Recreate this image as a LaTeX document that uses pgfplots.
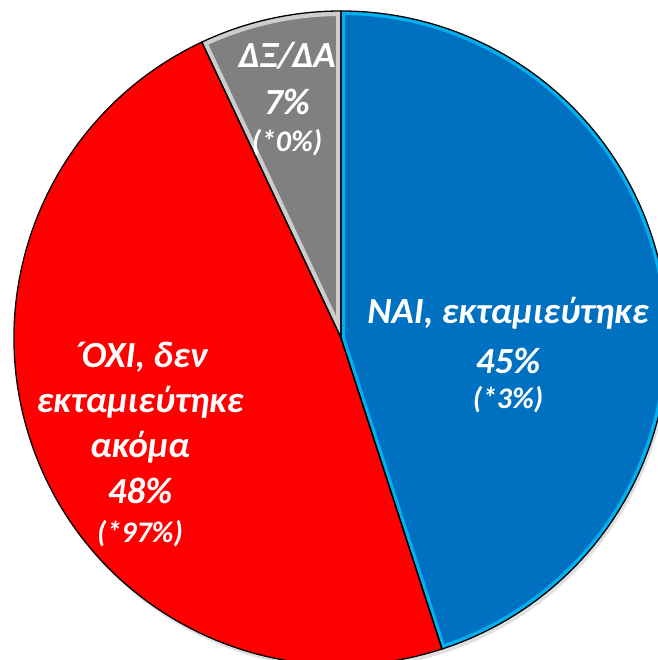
\documentclass[border=0pt]{standalone}
\usepackage{fontspec}
\setmainfont{Carlito}
\usepackage{pgfplots}
\pgfplotsset{compat=1.18}
\usepackage{pgfplotstable}
\definecolor{naiblue}{HTML}{0070C0}
\definecolor{naiedge}{HTML}{00B0F0}
\definecolor{oxired}{HTML}{FF0000}
\definecolor{dkgray}{HTML}{808080}
\definecolor{dkedge}{HTML}{CDCDCD}

\pgfplotstableread{
label value
NAI 45
OXI 48
DKDA 7
}\piedata

\begin{document}
\begin{tikzpicture}
\useasboundingbox (0,0) rectangle (658bp,660bp);
\clip (0,0) rectangle (658bp,660bp);
\pgfplotstablegetelem{0}{value}\of\piedata \pgfmathsetmacro{\vA}{\pgfplotsretval}
\pgfplotstablegetelem{1}{value}\of\piedata \pgfmathsetmacro{\vB}{\pgfplotsretval}
\pgfplotstablegetelem{2}{value}\of\piedata \pgfmathsetmacro{\vC}{\pgfplotsretval}
\pgfmathsetmacro{\aA}{90}
\pgfmathsetmacro{\aB}{\aA-3.6*\vA}
\pgfmathsetmacro{\aC}{\aB-3.6*\vB}
\pgfmathsetmacro{\aD}{\aC-3.6*\vC}
\def\wedge#1#2{(axis cs:341,322) -- ++(#1:327bp) arc[start angle=#1, end angle=#2, radius=327bp] -- cycle}
\begin{axis}[at={(0,0)}, anchor=south west, x=1bp, y=1bp, xmin=0, xmax=658, ymin=0, ymax=660, hide axis, clip=true]
% shadow
\fill[black!12] (axis cs:343,318) circle[radius=327bp];
% NAI
\fill[naiblue] \wedge{\aA}{\aB};
\begin{scope}
\clip \wedge{\aA}{\aB};
\draw[naiedge, line width=8bp] \wedge{\aA}{\aB};
\end{scope}
% OXI
\fill[oxired] \wedge{\aB}{\aC};
% DK/DA
\fill[dkgray] \wedge{\aC}{\aD};
\begin{scope}
\clip \wedge{\aC}{\aD};
\draw[dkedge, line width=10bp] \wedge{\aC}{\aD};
\end{scope}
% outlines
\draw[black, line width=1.3bp] \wedge{\aA}{\aB};
\draw[black, line width=1.3bp] \wedge{\aB}{\aC};
\draw[black, line width=1.3bp] \wedge{\aC}{\aD};

\tikzset{lbl/.style={anchor=base, white, inner sep=0pt, font=\fontsize{37}{44}\selectfont\bfseries\itshape},
         sub/.style={anchor=base, white, inner sep=0pt, font=\fontsize{30}{36}\selectfont\bfseries\itshape}}
% gray labels
\node[lbl] at (axis cs:287,592) {ΔΞ/ΔΑ};
\node[lbl] at (axis cs:287,545) {7\%};
\node[sub] at (axis cs:287,508) {(*0\%)};
% blue labels
\node[lbl] at (axis cs:508,337) {ΝΑΙ, εκταμιεύτηκε};
\node[lbl] at (axis cs:508,287) {45\%};
\node[sub] at (axis cs:508,252) {(*3\%)};
% red labels
\node[lbl] at (axis cs:140,293) {\char"00B4\kern-2bp ΟΧΙ, δεν};
\node[lbl] at (axis cs:140,248) {εκταμιεύτηκε};
\node[lbl] at (axis cs:140,203) {ακόμα};
\node[lbl] at (axis cs:140,157) {48\%};
\node[sub] at (axis cs:140,118) {(*97\%)};
\end{axis}
\end{tikzpicture}
\end{document}
